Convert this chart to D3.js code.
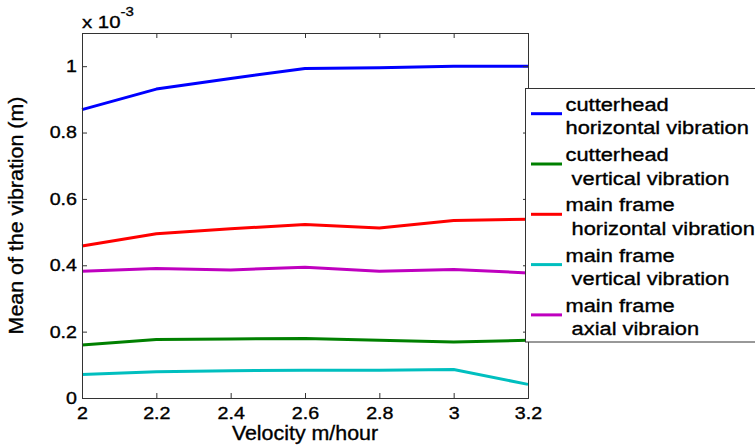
<!DOCTYPE html>
<html><head><meta charset="utf-8">
<script src="https://cdn.jsdelivr.net/npm/d3@7"></script>
<style>
html,body{margin:0;padding:0;background:#fff;}
text{font-family:"Liberation Sans",Arial,sans-serif;fill:#000;stroke:#000;stroke-width:0.35px;}
</style></head>
<body>
<svg id="chart" width="755" height="447"></svg>
<script>
// Data (values in units of 10^-3 m)
const velocity = [2, 2.2, 2.4, 2.6, 2.8, 3.0, 3.2];
const cutterheadHorizontal = [0.869, 0.931, 0.963, 0.993, 0.995, 1.000, 1.000];
const cutterheadVertical   = [0.160, 0.176, 0.178, 0.179, 0.174, 0.169, 0.174];
const mainFrameHorizontal  = [0.458, 0.495, 0.510, 0.523, 0.512, 0.535, 0.539];
const mainFrameVertical    = [0.071, 0.079, 0.082, 0.084, 0.084, 0.086, 0.041];
const mainFrameAxial       = [0.382, 0.390, 0.386, 0.394, 0.382, 0.387, 0.377];
const seriesNames = [
  ["cutterhead", "horizontal vibration"],
  ["cutterhead", " vertical vibration"],
  ["main frame", " horizontal vibration"],
  ["main frame", " vertical vibration"],
  ["main frame", " axial vibraion"]
];
const seriesColors = ["#0000ff", "#008000", "#ff0000", "#00bfbf", "#bf00bf"];
const xTicks = [2, 2.2, 2.4, 2.6, 2.8, 3.0, 3.2];
const yTicks = [0, 0.2, 0.4, 0.6, 0.8, 1.0];
const xLabel = "Velocity m/hour";
const yLabel = "Mean of the vibration (m)";

const series = [cutterheadHorizontal, cutterheadVertical, mainFrameHorizontal, mainFrameVertical, mainFrameAxial];

const svg = d3.select("#chart");
const L = 82, R = 528, T = 33, B = 398;
const x = d3.scaleLinear().domain([2, 3.2]).range([L, R]);
const y = d3.scaleLinear().domain([0, 1.1]).range([B, T]);

function stretch(sel, sx) {
  sel.each(function() {
    const t = d3.select(this);
    const tx = +t.attr("x") || 0;
    const ty = +t.attr("y") || 0;
    t.attr("x", 0).attr("y", 0).attr("transform", `translate(${tx},${ty}) scale(${sx},1)`);
  });
}

svg.append("rect").attr("x", L).attr("y", T).attr("width", R - L).attr("height", B - T)
  .attr("fill", "#fff");

// lines
const line = d3.line().x((d, i) => x(velocity[i])).y(d => y(d));
series.forEach((s, k) => {
  svg.append("path").datum(s).attr("d", line)
    .attr("fill", "none").attr("stroke", seriesColors[k]).attr("stroke-width", 3)
    .attr("stroke-linejoin", "round");
});

// axes
const fmt = d => d3.format("")(+d.toFixed(1));
const gx = svg.append("g").attr("transform", `translate(0,${B})`)
  .call(d3.axisBottom(x).tickValues(xTicks).tickSize(-5).tickPadding(9).tickFormat(fmt));
const gy = svg.append("g").attr("transform", `translate(${L},0)`)
  .call(d3.axisLeft(y).tickValues(yTicks).tickSize(-5).tickPadding(5).tickFormat(fmt));
const gt = svg.append("g").attr("transform", `translate(0,${T})`)
  .call(d3.axisTop(x).tickValues(xTicks).tickSize(-5).tickFormat(""));
const gr = svg.append("g").attr("transform", `translate(${R},0)`)
  .call(d3.axisRight(y).tickValues(yTicks).tickSize(-5).tickFormat(""));
[gx, gy, gt, gr].forEach(g => {
  g.select(".domain").attr("stroke", "#333").attr("stroke-width", 1);
  g.selectAll(".tick line").attr("stroke", "#333");
  g.selectAll("text").attr("font-size", 16.8).attr("font-family", "Liberation Sans, Arial, sans-serif").attr("fill", "#000");
});
stretch(gx.selectAll(".tick text"), 1.17);
stretch(gy.selectAll(".tick text"), 1.17);

// exponent label
const ex = svg.append("text").attr("font-size", 17);
ex.attr("transform", "translate(82,28) scale(1.2,1)");
ex.append("tspan").text("x 10");
ex.append("tspan").attr("dy", -12).attr("font-size", 12.5).text("-3");

// axis labels
svg.append("text").attr("font-size", 20).attr("text-anchor", "middle")
  .attr("transform", `translate(${(L + R) / 2},440) scale(1.07,1)`).text(xLabel);
svg.append("text").attr("font-size", 20).attr("text-anchor", "middle")
  .attr("transform", `translate(23,${(T + B) / 2}) rotate(-90) scale(1.07,1)`).text(yLabel);

// legend
const lg = svg.append("g");
lg.append("rect").attr("x", 525.5).attr("y", 88.5).attr("width", 260).attr("height", 253.5)
  .attr("fill", "#fff").attr("stroke", "#333").attr("stroke-width", 1);
seriesNames.forEach((nm, k) => {
  const ly = 113.7 + k * 50.3;
  lg.append("line").attr("x1", 531).attr("x2", 562).attr("y1", ly).attr("y2", ly)
    .attr("stroke", seriesColors[k]).attr("stroke-width", 3);
  lg.append("text").attr("font-size", 19).style("white-space", "pre")
    .attr("transform", `translate(565.5,${ly - 3}) scale(1.15,1)`).text(nm[0]);
  lg.append("text").attr("font-size", 19).style("white-space", "pre")
    .attr("transform", `translate(565.5,${ly + 20.5}) scale(1.15,1)`).text(nm[1]);
});
</script>
</body></html>
